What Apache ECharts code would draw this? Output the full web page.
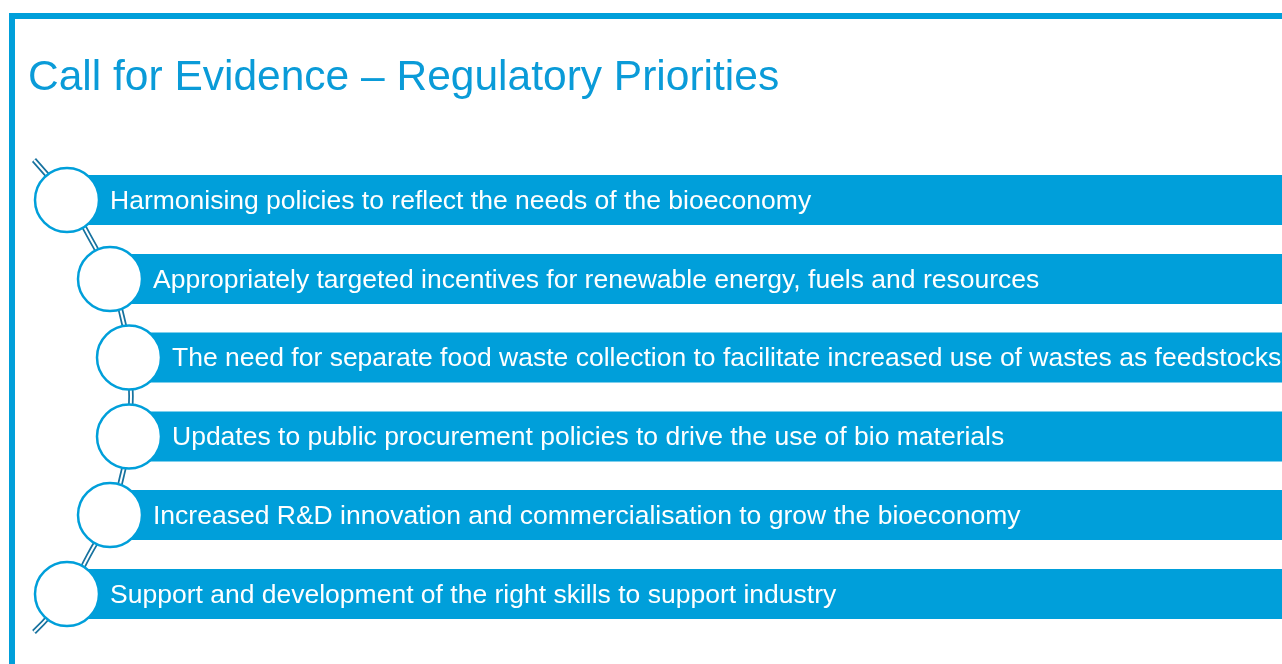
<!DOCTYPE html>
<html>
<head>
<meta charset="utf-8">
<script src="https://cdn.jsdelivr.net/npm/echarts@6/dist/echarts.min.js"></script>
<style>
  html, body { margin: 0; padding: 0; background: #fff; }
  #main { width: 1282px; height: 664px; }
</style>
</head>
<body>
<div id="main"></div>
<script>
// 标题和列表文字
const titleText = 'Call for Evidence \u2013 Regulatory Priorities';
const items = [
  'Harmonising policies to reflect the needs of the bioeconomy',
  'Appropriately targeted incentives for renewable energy, fuels and resources',
  'The need for separate food waste collection to facilitate increased use of wastes as feedstocks',
  'Updates to public procurement policies to drive the use of bio materials',
  'Increased R&D innovation and commercialisation to grow the bioeconomy',
  'Support and development of the right skills to support industry'
];
// 圆圈中心（读自原图，像素坐标）
const circleX = [67, 110, 129, 129, 110, 67];
const rowY = [200, 279, 357.5, 436.5, 515, 594];
// 弧线经过的点
const arcX = [34, 67, 89, 110, 122, 129, 131, 129, 122, 110, 89, 67, 34];
const arcY = [160, 200, 236, 278, 316, 357, 396, 436, 476, 515, 555, 594, 632];

// 颜色
const blue = '#009fda';
const titleBlue = '#0a9bd8';
const lineDark = '#17729f';
const font = '"Liberation Sans", Arial, sans-serif';

const rowData = items.map((t, i) => [circleX[i], rowY[i]]);
const arcData = arcX.map((x, i) => [x, arcY[i]]);

const chart = echarts.init(document.getElementById('main'));

const option = {
  animation: false,
  backgroundColor: '#fff',
  title: {
    text: titleText,
    left: 28,
    top: 57,
    padding: 0,
    textStyle: {
      fontFamily: font,
      fontSize: 42.5,
      fontWeight: 'normal',
      color: titleBlue
    }
  },
  graphic: [
    {
      type: 'rect',
      z: 100,
      shape: { x: 12, y: 16, width: 1400, height: 800 },
      style: { fill: 'none', stroke: blue, lineWidth: 6 }
    }
  ],
  grid: { left: 0, right: 0, top: 0, bottom: 0 },
  xAxis: { type: 'value', min: 0, max: 1282, show: false },
  yAxis: { type: 'value', min: 0, max: 664, inverse: true, show: false },
  series: [
    // 弧线（双线效果）
    {
      type: 'line',
      data: arcData,
      smooth: true,
      symbol: 'none',
      z: 1,
      lineStyle: { color: lineDark, width: 5.5, cap: 'butt' }
    },
    {
      type: 'line',
      data: arcData,
      smooth: true,
      symbol: 'none',
      z: 1,
      lineStyle: { color: '#fff', width: 2, cap: 'butt' }
    },
    // 蓝色条和文字
    {
      type: 'custom',
      data: rowData,
      z: 2,
      renderItem: function (params, api) {
        const p = api.coord([api.value(0), api.value(1)]);
        const h = 50;
        return {
          type: 'group',
          children: [
            {
              type: 'rect',
              shape: { x: p[0], y: p[1] - h / 2, width: 1400, height: h },
              style: { fill: blue }
            },
            {
              type: 'text',
              style: {
                x: p[0] + 43,
                y: p[1] + 1.5,
                text: items[params.dataIndex],
                fill: '#fff',
                font: '26.5px ' + font,
                verticalAlign: 'middle',
                align: 'left'
              }
            }
          ]
        };
      }
    },
    // 白色圆圈
    {
      type: 'scatter',
      data: rowData,
      z: 3,
      symbol: 'circle',
      symbolSize: 64,
      itemStyle: { color: '#fff', borderColor: blue, borderWidth: 2.5, opacity: 1 },
      emphasis: { disabled: true }
    }
  ]
};

chart.setOption(option);
</script>
</body>
</html>
